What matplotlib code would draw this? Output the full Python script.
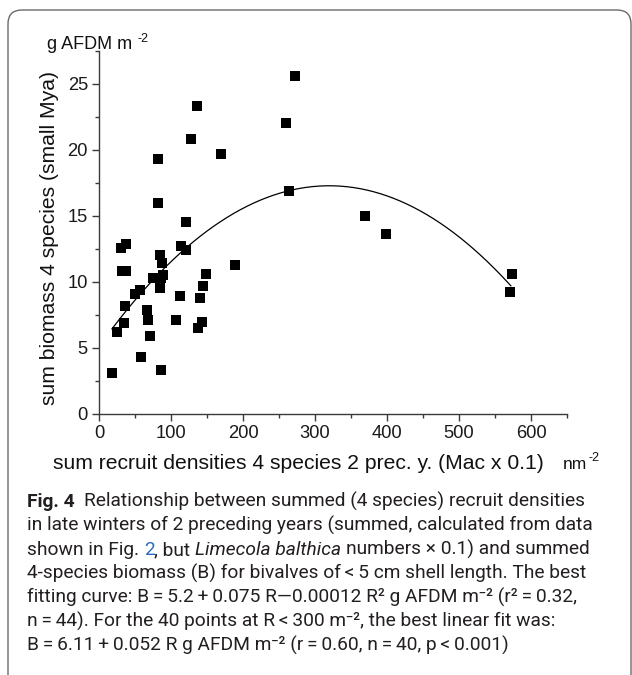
import numpy as np
import matplotlib
matplotlib.use('Agg')
import matplotlib.pyplot as plt
from matplotlib.patches import FancyBboxPatch
from matplotlib.transforms import IdentityTransform

# recruit densities (x) and biomass (y)
recruits = [17.6, 24.6, 30.6, 37.5, 31.5, 37.0, 35.5, 35.0, 50.0, 57.5,
            58.4, 66.3, 67.6, 70.9, 75.5, 86.0, 89.5, 85.0, 85.0, 87.0,
            82.0, 82.5, 85.7, 106.6, 112.6, 113.5, 120.5, 120.5, 127.9, 136.6,
            137.6, 140.0, 143.0, 145.0, 148.7, 169.6, 189.0, 260.0, 263.6, 272.4,
            369.0, 399.0, 571.0, 573.0]
biomass = [3.1, 6.2, 12.6, 12.9, 10.8, 10.8, 8.2, 6.9, 9.1, 9.4,
           4.3, 7.9, 7.1, 5.9, 10.3, 10.3, 10.5, 9.5, 12.0, 11.4,
           16.0, 19.3, 3.3, 7.1, 8.9, 12.7, 12.4, 14.5, 20.8, 23.3,
           6.5, 8.8, 7.0, 9.7, 10.6, 19.7, 11.3, 22.0, 16.9, 25.6,
           15.0, 13.6, 9.2, 10.6]

# quadratic fit as drawn (b0, b1, b2) and its R range
fit_coef = [5.11, 0.0761, -0.000119]
fit_range = [18, 572]

x_ticks = [0, 100, 200, 300, 400, 500, 600]
y_ticks = [0, 5, 10, 15, 20, 25]

W, H = 632, 675
axis_font = ['Liberation Sans Narrow', 'Liberation Sans', 'DejaVu Sans']
cap_font = ['Roboto', 'DejaVu Sans']

fig = plt.figure(figsize=(W / 100, H / 100), dpi=100)
renderer = fig.canvas.get_renderer()

# rounded frame around the figure
frame = FancyBboxPatch((8, -30), 623, H - 10 + 30, boxstyle='round,pad=0,rounding_size=14',
                       transform=IdentityTransform(), facecolor='none',
                       edgecolor='#6a6a6a', linewidth=1.0)
fig.patches.append(frame)

ax = fig.add_axes([99 / W, 1 - 414 / H, (567 - 99) / W, (414 - 50.7) / H])
ax.scatter(recruits, biomass, marker='s', s=7.2 ** 2, color='black', linewidths=0, zorder=3)
R = np.linspace(fit_range[0], fit_range[1], 300)
ax.plot(R, np.polyval(fit_coef[::-1], R), color='black', lw=0.9)

ax.set_xlim(0, 650)
ax.set_ylim(0, 27.5)
ax.set_xticks(x_ticks)
ax.set_xticks(np.arange(50, 651, 100), minor=True)
ax.set_yticks(y_ticks)
ax.set_yticks(np.arange(2.5, 27.6, 5), minor=True)
for side in ['top', 'right']:
    ax.spines[side].set_visible(False)
for side in ['left', 'bottom']:
    ax.spines[side].set_color('#3a3a3a')
    ax.spines[side].set_linewidth(1.0)
ax.tick_params(which='major', direction='out', length=5, width=1, color='#3a3a3a',
               labelsize=13.2, pad=3)
ax.tick_params(which='minor', direction='out', length=3, width=1, color='#3a3a3a')
for lab in ax.get_xticklabels() + ax.get_yticklabels():
    lab.set_family(axis_font)
    lab.set_color('#1a1a1a')


def px(x, y):
    return x / W, 1 - y / H


def space_width(kw):
    a = fig.text(0, 0, 'a a', **kw)
    b = fig.text(0, 0, 'aa', **kw)
    w = a.get_window_extent(renderer).width - b.get_window_extent(renderer).width
    a.remove()
    b.remove()
    return w


def put_line(x, y, parts):
    # parts: list of (text, kwargs); spaces at the ends are added as gaps
    for txt, kw in parts:
        sw = space_width(kw)
        lead = len(txt) - len(txt.lstrip(' '))
        trail = len(txt) - len(txt.rstrip(' '))
        x += lead * sw
        core = txt.strip(' ')
        if core:
            t = fig.text(*px(x, y), core, va='baseline', ha='left', **kw)
            x += t.get_window_extent(renderer).width
        x += trail * sw
    return x


# axis texts
lab_kw = dict(family=axis_font, fontsize=15.2, color='#111111')
fig.text(*px(50, 238), 'sum biomass 4 species (small Mya)', rotation=90,
         ha='center', va='center', **lab_kw)
fig.text(*px(298, 469), 'sum recruit densities 4 species 2 prec. y. (Mac x 0.1)',
         ha='center', va='baseline', **lab_kw)
xe = put_line(563, 469, [('nm', dict(family=axis_font, fontsize=12.5, color='#111111'))])
put_line(xe + 1, 461, [('-2', dict(family=axis_font, fontsize=9, color='#111111'))])
xe = put_line(47, 49, [('g AFDM m ', dict(family=axis_font, fontsize=13, color='#111111'))])
put_line(xe, 42, [('-2', dict(family=axis_font, fontsize=9, color='#111111'))])

# caption
reg = dict(family=cap_font, fontsize=13.8, color='#231f20')
bold = dict(reg, weight='bold')
ital = dict(reg, style='italic')
link = dict(reg, color='#2a6ebb')
cap_lines = [
    [('Fig. 4', bold), ('  Relationship between summed (4 species) recruit densities', reg)],
    [('in late winters of 2 preceding years (summed, calculated from data', reg)],
    [('shown in Fig. ', reg), ('2', link), (', but ', reg), ('Limecola balthica', ital),
     (' numbers \u00d7 0.1) and summed', reg)],
    [('4-species biomass (B) for bivalves of\u2009<\u20095 cm shell length. The best', reg)],
    [('fitting curve: B\u2009=\u20095.2\u2009+\u20090.075 R\u20140.00012 R\u00b2 g AFDM m\u207b\u00b2 (r\u00b2\u2009=\u20090.32,', reg)],
    [('n\u2009=\u200944). For the 40 points at R\u2009<\u2009300 m\u207b\u00b2, the best linear fit was:', reg)],
    [('B\u2009=\u20096.11\u2009+\u20090.052 R g AFDM m\u207b\u00b2 (r\u2009=\u20090.60, n\u2009=\u200940, p\u2009<\u20090.001)', reg)],
]
for i, parts in enumerate(cap_lines):
    put_line(27, 507 + 24 * i, parts)

fig.savefig('out.png', dpi=100)
